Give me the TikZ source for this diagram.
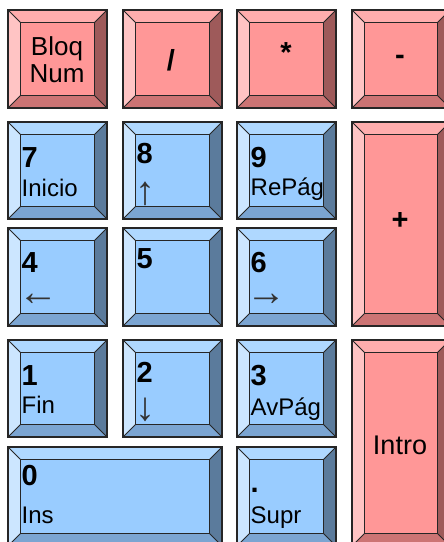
\documentclass[tikz,border=0pt]{standalone}
\usepackage{fontspec}
\setmainfont{Liberation Sans}
\definecolor{redface}{HTML}{FF9797}
\definecolor{redtop}{HTML}{FFADAD}
\definecolor{redleft}{HTML}{FFC4C4}
\definecolor{redbottom}{HTML}{CC7474}
\definecolor{redright}{HTML}{9E5A5A}
\definecolor{blueface}{HTML}{99CCFF}
\definecolor{bluetop}{HTML}{AFD8FF}
\definecolor{blueleft}{HTML}{CCE6FF}
\definecolor{bluebottom}{HTML}{7BA5D2}
\definecolor{blueright}{HTML}{5B7B9C}
% #1 x0, #2 y0, #3 x1, #4 y1, #5 palette
\newcommand{\padkey}[5]{%
  \fill[#5top] (#1,#2) -- (#3,#2) -- (#3-12.5,#2+12.5) -- (#1+12.5,#2+12.5) -- cycle;
  \fill[#5left] (#1,#2) -- (#1+12.5,#2+12.5) -- (#1+12.5,#4-12.5) -- (#1,#4) -- cycle;
  \fill[#5right] (#3,#2) -- (#3,#4) -- (#3-12.5,#4-12.5) -- (#3-12.5,#2+12.5) -- cycle;
  \fill[#5bottom] (#1,#4) -- (#3,#4) -- (#3-12.5,#4-12.5) -- (#1+12.5,#4-12.5) -- cycle;
  \fill[#5face] (#1+12.5,#2+12.5) rectangle (#3-12.5,#4-12.5);
  \draw[bevelline] (#1,#2) -- (#1+12.5,#2+12.5) (#3,#2) -- (#3-12.5,#2+12.5)
        (#1,#4) -- (#1+12.5,#4-12.5) (#3,#4) -- (#3-12.5,#4-12.5);
  \draw[keyline] (#1+12.5,#2+12.5) rectangle (#3-12.5,#4-12.5);
  \draw[keyline] (#1,#2) rectangle (#3,#4);
}
\begin{document}
\begin{tikzpicture}[x=1pt,y=-1pt,
  keyline/.style={draw=black!85,line width=1.6pt},
  bevelline/.style={draw=black!85,line width=1pt},
  keydigit/.style={font=\fontsize{29}{30}\selectfont\bfseries,anchor=base west,inner sep=0pt},
  keysub/.style={font=\fontsize{24}{28}\selectfont,anchor=base west,inner sep=0pt},
  keyarrow/.style={font=\fontsize{40}{42}\selectfont,anchor=center,inner sep=0pt,text=black!80},
  keyop/.style={font=\fontsize{29}{30}\selectfont\bfseries,anchor=center,inner sep=0pt},
  keyword/.style={font=\fontsize{26}{28}\selectfont,anchor=base,inner sep=0pt}]
\useasboundingbox (0,0) rectangle (444,542);
\begin{scope}
\clip (0,0) rectangle (444,542);
% row 1
\padkey{8}{10}{107}{108}{red}
\padkey{123}{10}{222}{108}{red}
\padkey{237}{10}{336}{108}{red}
\padkey{352}{10}{450}{108}{red}
% row 2
\padkey{8}{122}{107}{219}{blue}
\padkey{123}{122}{222}{219}{blue}
\padkey{237}{122}{336}{219}{blue}
\padkey{352}{122}{450}{326}{red}
% row 3
\padkey{8}{228}{107}{326}{blue}
\padkey{123}{228}{222}{326}{blue}
\padkey{237}{228}{336}{326}{blue}
% row 4
\padkey{8}{340}{107}{437}{blue}
\padkey{123}{340}{222}{437}{blue}
\padkey{237}{340}{336}{437}{blue}
\padkey{352}{340}{450}{546}{red}
% row 5
\padkey{8}{447}{222}{546}{blue}
\padkey{237}{447}{336}{546}{blue}
\end{scope}
% labels
\node[keyword] (bloq) at (57,55) {Bloq};
\node[keyword] (num) at (57,82) {Num};
\node[keyop] (slash) at (171,60) {/};
\node[keyop] (star) at (286,53) {*};
\node[keyop] (minus) at (400,60) {-};
\node[keyop] (plus) at (400,221) {+};
\node[keyword,font=\fontsize{27}{28}\selectfont] (intro) at (400,454) {Intro};

\node[keydigit] (d7) at (21.5,167) {7};
\node[keysub] (s7) at (21.5,196) {Inicio};
\node[keydigit] (d8) at (136.5,163) {8};
\node[keyarrow] (s8) at (145,194) {↑};
\node[keydigit] (d9) at (250.5,167) {9};
\node[keysub] (s9) at (250.5,195) {RePág};

\node[keydigit] (d4) at (21.5,272) {4};
\node[keyarrow] (s4) at (38,300) {←};
\node[keydigit] (d5) at (136.5,268) {5};
\node[keydigit] (d6) at (250.5,272) {6};
\node[keyarrow] (s6) at (266,300) {→};

\node[keydigit] (d1) at (21.5,385) {1};
\node[keysub] (s1) at (21.5,413) {Fin};
\node[keydigit] (d2) at (136.5,382) {2};
\node[keyarrow] (s2) at (145,410) {↓};
\node[keydigit] (d3) at (250.5,385) {3};
\node[keysub] (s3) at (250.5,415) {AvPág};

\node[keydigit] (d0) at (21.5,485) {0};
\node[keysub] (s0) at (21.5,523) {Ins};
\node[keydigit] (ddot) at (250.5,492) {.};
\node[keysub] (sdot) at (250.5,523) {Supr};
\end{tikzpicture}
\end{document}
